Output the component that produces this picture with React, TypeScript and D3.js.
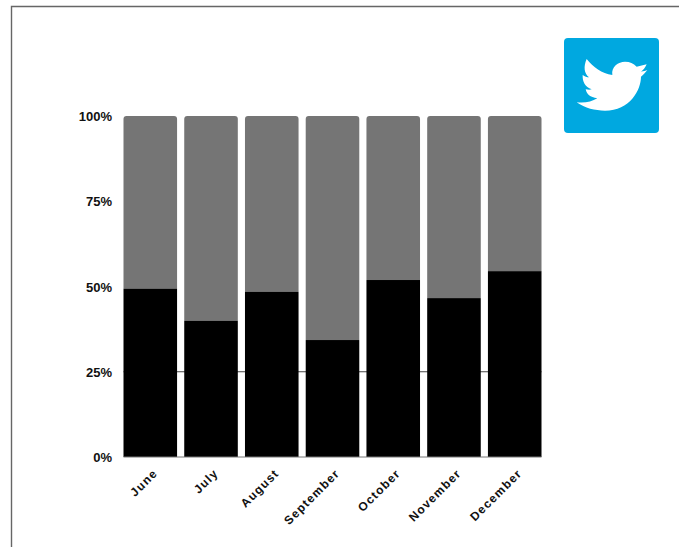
import React from "react";
import * as d3 from "d3";

const months = ["June", "July", "August", "September", "October", "November", "December"];
const lowerShare = [49.3, 39.9, 48.4, 34.3, 51.9, 46.6, 54.5];
const yTicks = [0, 25, 50, 75, 100];

const WIDTH = 679;
const HEIGHT = 547;

// White bird silhouette, drawn in a 3x local coordinate space of the badge
const BIRD =
  "M110,247 C135,250 155,245 172,235 C150,232 140,222 137,208 C145,210 150,210 155,208 " +
  "C135,200 127,185 128,165 C135,170 140,172 147,172 C132,160 130,140 140,117 " +
  "C160,142 185,160 217,165 C213,140 235,125 255,125 C270,125 280,130 290,140 " +
  "C300,138 310,135 320,133 C315,145 310,150 303,155 C310,154 318,152 322,150 " +
  "C315,158 310,165 303,170 C303,210 270,272 195,272 C165,272 135,265 110,247 Z";

export default function App() {
  const x = d3.scaleBand<string>().domain(months).range([123.5, 541.5]).paddingInner(0.118);
  const y = d3.scaleLinear().domain([0, 100]).range([457, 116]);
  const r = 3;

  return (
    <svg
      width={WIDTH}
      height={HEIGHT}
      style={{ position: "fixed", left: 0, top: 0, background: "#fff" }}
      fontFamily="'Liberation Sans', Arial, sans-serif"
      fontWeight="bold"
    >
      <path d={`M${WIDTH},6.5 H11.5 V${HEIGHT}`} fill="none" stroke="#666" strokeWidth={1.4} />

      {/* Gridline visible only in the gaps between the black bars */}
      <line x1={x("June")!} x2={541.5} y1={y(25)} y2={y(25)} stroke="#444" strokeWidth={1} />

      {months.map((m, i) => {
        const x0 = x(m)!;
        const w = x.bandwidth();
        const top = y(100);
        const split = y(lowerShare[i]);
        const upper = d3.path();
        upper.moveTo(x0, split);
        upper.lineTo(x0, top + r);
        upper.quadraticCurveTo(x0, top, x0 + r, top);
        upper.lineTo(x0 + w - r, top);
        upper.quadraticCurveTo(x0 + w, top, x0 + w, top + r);
        upper.lineTo(x0 + w, split);
        upper.closePath();
        return (
          <g key={m}>
            <path d={upper.toString()} fill="#757575" />
            <rect x={x0} y={split} width={w} height={y(0) - split} fill="#000" />
            <text
              transform={`translate(${x0 + w / 2 + 8},${y(0) + 17}) rotate(-45)`}
              textAnchor="end"
              fontSize={12}
              letterSpacing={1.2}
              fill="#111"
            >
              {m}
            </text>
          </g>
        );
      })}

      <line x1={x("June")!} x2={541.5} y1={y(0)} y2={y(0)} stroke="#777" strokeWidth={1} />

      {yTicks.map((t) => (
        <text key={t} x={112} y={y(t) + 5} textAnchor="end" fontSize={13} fill="#111">
          {t}%
        </text>
      ))}

      <rect x={564} y={38} width={95} height={95} rx={4} fill="#00a8e0" />
      <path d={BIRD} transform="translate(540,20) scale(0.3333)" fill="#fff" />
    </svg>
  );
}
